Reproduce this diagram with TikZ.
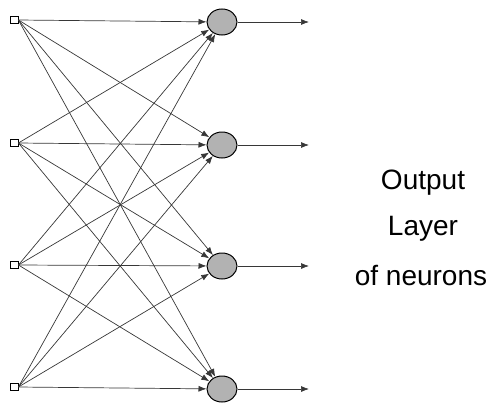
\documentclass[tikz,border=0pt]{standalone}
\usepackage{fontspec}
\setmainfont{Liberation Sans}
\usepackage{xcolor}
\usepackage{tikz}
\usetikzlibrary{shapes.geometric, arrows.meta, positioning, calc}
\definecolor{wiregray}{RGB}{55, 55, 55}
\tikzstyle{inputbox} = [
    rectangle,
    minimum width=8pt,
    minimum height=7pt,
    inner sep=0pt,
    draw=black,
    fill=white,
    line width=0.8pt
]
\tikzstyle{neuron} = [
    ellipse,
    minimum width=30pt,
    minimum height=26pt,
    inner sep=0pt,
    draw=black,
    fill=gray!60,
    line width=1pt
]
\tikzstyle{wire} = [
    line width=0.7pt,
    -{Latex[length=8pt,width=6pt]},
    color=wiregray
]
\tikzstyle{label} = [
    font=\fontsize{28}{30}\selectfont,
    text=black
]

\begin{document}
\begin{tikzpicture}[x=1pt, y=-1pt]
        \useasboundingbox (0, 0) rectangle (494, 407);
        % Input and output layers
        \foreach \n/\y/\z in {1/20/22, 2/143/145, 3/265/266, 4/387/389} {
            \node[inputbox] (in\n) at (14, \y) {};
            \node[neuron] (out\n) at (222, \z) {};
            \coordinate (end\n) at (309, \z);
        }
        
        % Connections
        \foreach \i in {1,...,4} {
            \foreach \j in {1,...,4} {
                \draw[wire] (in\i.east) -- (out\j);
            }
            \draw[wire] (out\i) -- (end\i);
        }
        
        % Labels
        \node[label] (output) at (423, 183) {Output};
        \node[label] (layer) at (423, 229) {Layer};
        \node[label] (neurons) at (421, 275) {of neurons};
    \end{tikzpicture}
\end{document}
